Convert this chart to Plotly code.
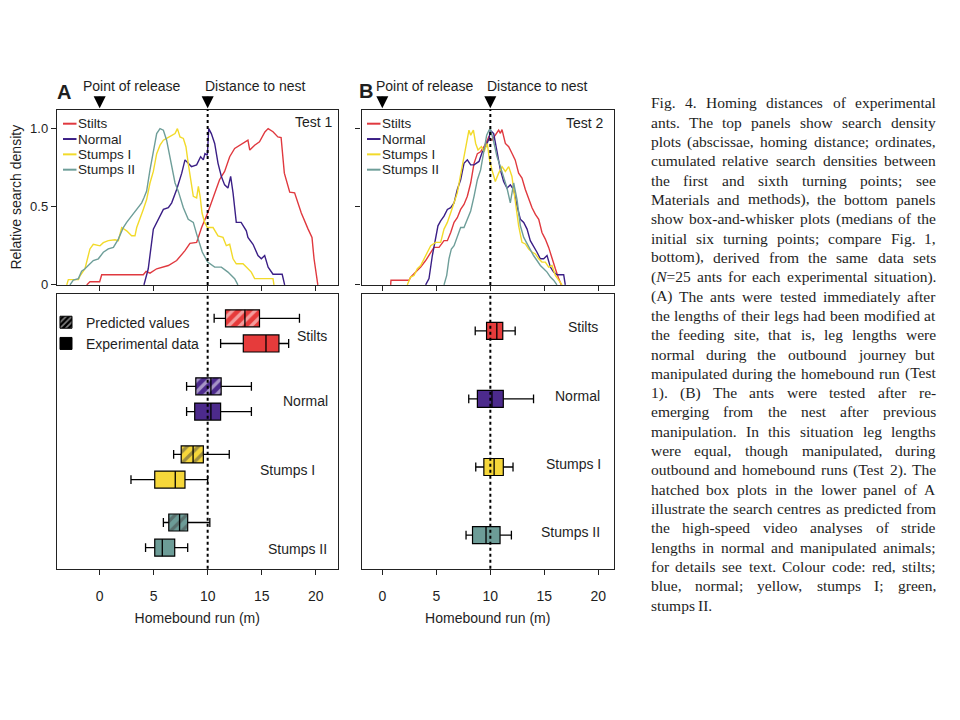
import plotly.graph_objects as go

W, H = 960, 720
OFF = 8  # page margin of the rendered html body
def px(x):
    return (x - OFF) / W
def py(y):
    return 1 - (y - OFF) / H

# ---------------- data ----------------
GROUPS = ["Stilts", "Normal", "Stumps I", "Stumps II"]
X_TICKS = [0, 5, 10, 15, 20]
DENSITY_TICKS = [0, 0.5, 1.0]
DENSITY_TICK_LABELS = ["0", "0.5", "1.0"]
RELEASE_POINT = 0
NEST_DISTANCE = 10

# Test 1 search density curves
A_STILTS_X = [-1.2, -0.9, 0.0, 0.19, 4.04, 4.3, 4.66, 5.28, 6.36, 7.13, 7.9, 8.36, 8.98, 9.44, 10.0, 10.5, 11.1, 11.57,
              12.04, 12.5, 13.27, 13.73, 13.9, 14.35, 14.8, 15.3, 15.6, 16.05, 16.5, 16.8, 17.1, 17.6, 18.05, 18.67,
              19.3, 19.66, 19.85, 20.06, 20.2]
A_STILTS_Y = [0, 0.02, 0.02, 0.065, 0.065, 0.087, 0.075, 0.103, 0.124, 0.156, 0.219, 0.266, 0.272, 0.367, 0.46, 0.557,
              0.673, 0.726, 0.82, 0.873, 0.905, 0.926, 0.863, 0.894, 0.916, 0.979, 1.0, 0.98, 0.947, 0.943, 0.715,
              0.593, 0.589, 0.46, 0.357, 0.304, 0.167, 0.06, 0]
A_NORMAL_X = [4.1, 4.5, 4.97, 5.43, 5.9, 6.36, 6.67, 7.13, 7.6, 7.9, 8.2, 8.5, 8.98, 9.35, 9.6, 9.75, 9.97, 10.1, 10.34,
              10.65, 10.96, 11.27, 11.57, 11.88, 12.13, 12.35, 12.65, 13.1, 13.58, 13.73, 14.2, 14.66, 14.97, 15.28,
              15.6, 16.05, 16.9, 17.13]
A_NORMAL_Y = [0, 0.103, 0.357, 0.42, 0.483, 0.494, 0.525, 0.61, 0.715, 0.8, 0.78, 0.757, 0.768, 0.82, 0.8, 0.84, 0.83,
              1.0, 0.968, 0.905, 0.778, 0.694, 0.64, 0.62, 0.694, 0.589, 0.4, 0.4, 0.346, 0.304, 0.26, 0.188, 0.167,
              0.188, 0.114, 0.068, 0.068, 0]
A_STUMPS1_X = [-3.05, -2.9, -1.97, -1.8, -1.36, -0.9, -0.59, 0.03, 0.34, 0.8, 1.42, 1.73, 2.04, 2.5, 2.96, 3.27, 3.43,
               3.73, 4.04, 4.35, 4.66, 4.97, 5.28, 5.59, 5.9, 6.2, 6.5, 6.98, 7.2, 7.44, 7.75, 7.99, 8.2, 8.36, 8.67,
               8.98, 9.14, 9.3, 9.48, 9.72, 9.97, 10.5, 10.96, 11.42, 11.73, 12.04, 12.35, 12.65, 13.27, 13.58, 14.04,
               14.35, 16.05, 16.14]
A_STUMPS1_Y = [0, 0.034, 0.034, 0.06, 0.103, 0.23, 0.26, 0.25, 0.27, 0.283, 0.289, 0.283, 0.367, 0.346, 0.314, 0.314,
               0.367, 0.42, 0.483, 0.546, 0.652, 0.726, 0.84, 0.894, 0.926, 0.937, 0.947, 0.968, 1.0, 0.947, 0.937,
               0.884, 0.778, 0.694, 0.567, 0.557, 0.63, 0.567, 0.46, 0.4, 0.367, 0.367, 0.314, 0.304, 0.251, 0.26,
               0.167, 0.135, 0.135, 0.114, 0.082, 0.04, 0.04, 0]
A_STUMPS2_X = [-2.75, -2.44, -1.97, -1.67, -1.36, -1.05, -0.59, -0.12, 0.34, 0.8, 1.27, 1.73, 2.19, 2.5, 2.96, 3.43,
               3.89, 4.1, 4.35, 4.66, 4.97, 5.28, 5.59, 5.9, 6.2, 6.5, 6.76, 6.98, 7.28, 7.75, 8.2, 8.67, 8.98, 9.2,
               9.5, 10.0, 10.65, 11.27, 11.88, 12.5, 12.8]
A_STUMPS2_Y = [0, 0.03, 0.04, 0.087, 0.103, 0.124, 0.156, 0.167, 0.209, 0.23, 0.24, 0.293, 0.367, 0.4, 0.44, 0.483,
               0.525, 0.557, 0.6, 0.736, 0.863, 0.968, 1.0, 0.99, 0.926, 0.82, 0.736, 0.652, 0.6, 0.494, 0.42, 0.4,
               0.325, 0.27, 0.21, 0.146, 0.114, 0.114, 0.082, 0.04, 0]

# Test 2 search density curves
B_STILTS_X = [0.77, 0.8, 2.47, 2.62, 3.09, 3.55, 4.01, 4.48, 4.78, 5.25, 5.71, 6.02, 6.33, 6.64, 6.94, 7.25, 7.56, 7.87,
              8.18, 8.49, 8.8, 9.1, 9.41, 9.72, 9.85, 10.15, 10.46, 10.77, 10.93, 11.08, 11.39, 11.7, 12.0, 12.3,
              12.62, 12.93, 13.24, 13.55, 13.86, 14.17, 14.48, 14.78, 15.09, 15.4, 15.71, 16.02, 16.33, 16.57]
B_STILTS_Y = [0, 0.03, 0.03, 0.05, 0.082, 0.114, 0.156, 0.209, 0.24, 0.24, 0.283, 0.283, 0.335, 0.4, 0.43, 0.483, 0.515,
              0.567, 0.652, 0.778, 0.84, 0.852, 0.884, 0.926, 0.947, 0.926, 0.958, 0.99, 0.97, 0.994, 0.905, 0.884,
              0.842, 0.8, 0.715, 0.684, 0.61, 0.546, 0.494, 0.451, 0.42, 0.335, 0.293, 0.24, 0.167, 0.103, 0.04, 0]
B_NORMAL_X = [4.01, 4.32, 4.63, 4.94, 5.15, 5.4, 5.71, 6.02, 6.33, 6.64, 6.94, 7.25, 7.56, 7.87, 8.18, 8.49, 8.95, 9.26,
              9.57, 9.88, 10.0, 10.31, 10.62, 10.93, 11.23, 11.54, 11.85, 12.16, 12.47, 12.78, 13.09, 13.4, 13.7, 14.0,
              14.32, 14.63, 14.94, 15.25, 15.56, 15.86, 16.17, 16.79, 16.94]
B_NORMAL_Y = [0, 0.04, 0.188, 0.314, 0.378, 0.41, 0.44, 0.483, 0.494, 0.525, 0.61, 0.673, 0.778, 0.8, 0.768, 0.768, 0.79,
              0.852, 0.884, 0.937, 0.99, 0.968, 0.863, 0.736, 0.662, 0.62, 0.64, 0.61, 0.504, 0.42, 0.4, 0.357, 0.283,
              0.251, 0.209, 0.167, 0.167, 0.188, 0.114, 0.082, 0.065, 0.065, 0]
B_STUMPS1_X = [2.31, 2.62, 2.93, 3.24, 3.55, 3.86, 4.17, 4.48, 4.94, 5.4, 5.71, 6.02, 6.33, 6.64, 6.94, 7.25, 7.56, 7.81,
               8.02, 8.18, 8.43, 8.64, 8.86, 9.17, 9.41, 9.72, 9.9, 10.15, 10.46, 10.77, 11.08, 11.39, 11.7, 12.0, 12.3,
               12.62, 12.93, 13.24, 13.55, 13.86, 14.17, 14.48, 14.78, 15.09, 15.4, 15.71, 16.02, 16.33, 16.64]
B_STUMPS1_Y = [0, 0.05, 0.06, 0.103, 0.124, 0.167, 0.209, 0.251, 0.272, 0.272, 0.357, 0.4, 0.462, 0.525, 0.589, 0.705,
               0.82, 0.926, 0.99, 0.958, 0.99, 0.905, 0.863, 0.884, 0.852, 0.905, 0.81, 0.736, 0.662, 0.715, 0.757,
               0.726, 0.757, 0.694, 0.546, 0.378, 0.272, 0.262, 0.23, 0.209, 0.198, 0.167, 0.146, 0.146, 0.114, 0.124,
               0.061, 0.03, 0]
B_STUMPS2_X = [5.71, 5.96, 6.17, 6.39, 6.64, 6.94, 7.25, 7.56, 7.87, 8.18, 8.49, 8.8, 9.1, 9.41, 9.66, 9.88, 10.0, 10.31,
               10.62, 10.93, 11.23, 11.54, 11.85, 12.16, 12.47, 12.78, 13.09, 13.4, 13.7, 14.0, 14.32, 14.63, 14.94,
               15.25, 15.56, 15.86, 16.17]
B_STUMPS2_Y = [0, 0.061, 0.167, 0.23, 0.251, 0.314, 0.367, 0.367, 0.42, 0.473, 0.567, 0.673, 0.736, 0.863, 0.958, 0.99,
               1.0, 0.916, 0.82, 0.757, 0.684, 0.62, 0.525, 0.652, 0.546, 0.378, 0.304, 0.262, 0.23, 0.188, 0.156,
               0.124, 0.103, 0.082, 0.05, 0.03, 0]

# Box-and-whisker summaries (order: Stilts, Normal, Stumps I, Stumps II)
A_PRED_LO = [10.6, 8.05, 6.85, 5.9]
A_PRED_Q1 = [11.65, 8.9, 7.55, 6.4]
A_PRED_MED = [13.45, 10.3, 8.65, 7.4]
A_PRED_Q3 = [14.8, 11.25, 9.6, 8.15]
A_PRED_HI = [18.5, 14.05, 12.0, 10.2]

A_EXP_LO = [11.2, 8.05, 2.9, 4.25]
A_EXP_Q1 = [13.3, 8.8, 5.1, 5.1]
A_EXP_MED = [15.4, 10.3, 7.0, 5.8]
A_EXP_Q3 = [16.6, 11.2, 7.9, 6.95]
A_EXP_HI = [17.5, 14.05, 10.0, 8.15]

B_LO = [8.6, 8.0, 8.65, 7.75]
B_Q1 = [9.65, 8.8, 9.4, 8.35]
B_MED = [10.6, 10.15, 10.35, 9.6]
B_Q3 = [11.15, 11.2, 11.2, 10.9]
B_HI = [12.3, 14.0, 12.1, 11.95]

CAPTION_LINES = [
    "Fig. 4. Homing distances of experimental",
    "ants. The top panels show search density",
    "plots (abscissae, homing distance; ordinates,",
    "cumulated relative search densities between",
    "the first and sixth turning points; see",
    "Materials and methods), the bottom panels",
    "show box-and-whisker plots (medians of the",
    "initial six turning points; compare Fig. 1,",
    "bottom), derived from the same data sets",
    "(<i>N</i>=25 ants for each experimental situation).",
    "(A) The ants were tested immediately after",
    "the lengths of their legs had been modified at",
    "the feeding site, that is, leg lengths were",
    "normal during the outbound journey but",
    "manipulated during the homebound run (Test",
    "1). (B) The ants were tested after re-",
    "emerging from the nest after previous",
    "manipulation. In this situation leg lengths",
    "were equal, though manipulated, during",
    "outbound and homebound runs (Test 2). The",
    "hatched box plots in the lower panel of A",
    "illustrate the search centres as predicted from",
    "the high-speed video analyses of stride",
    "lengths in normal and manipulated animals;",
    "for details see text. Colour code: red, stilts;",
    "blue, normal; yellow, stumps I; green,",
    "stumps II.",
]

# ---------------- styles ----------------
LINE_COLORS = ["#e0393f", "#3b1f86", "#f2da2a", "#6e9e99"]
BOX_COLORS = ["#e63b3b", "#4c2a8c", "#f6d73a", "#6c9c97"]
SANS = "Liberation Sans, Arial, sans-serif"
SERIF = "Liberation Serif, Times New Roman, serif"
TXT = "#1e1e1e"

# layout geometry (pixels in the reference picture)
A_L, A_R = 57, 337.5
B_L, B_R = 361.5, 614
TOP_T, TOP_B = 110.7, 288
BOT_T, BOT_B = 297, 575
ROWS = [3, 2, 1, 0]          # row index of each group in the lower panels
PAIR_OFF = 0.185             # offset of predicted / experimental boxes from row centre
BOX_H = 0.25
CAP = 0.065

fig = go.Figure()

def density(xs, ys, color, xa, ya):
    fig.add_trace(go.Scatter(x=xs, y=ys, mode="lines", line=dict(color=color, width=1.4),
                             showlegend=False, hoverinfo="skip", xaxis=xa, yaxis=ya))

for (xs, ys), c in zip([(A_STILTS_X, A_STILTS_Y), (A_NORMAL_X, A_NORMAL_Y),
                        (A_STUMPS1_X, A_STUMPS1_Y), (A_STUMPS2_X, A_STUMPS2_Y)], LINE_COLORS):
    density(xs, ys, c, "x", "y")
for (xs, ys), c in zip([(B_STILTS_X, B_STILTS_Y), (B_NORMAL_X, B_NORMAL_Y),
                        (B_STUMPS1_X, B_STUMPS1_Y), (B_STUMPS2_X, B_STUMPS2_Y)], LINE_COLORS):
    density(xs, ys, c, "x3", "y3")

def boxes(lo, q1, med, q3, hi, ypos, hatched, xa, ya):
    pattern = dict(shape="/", fgcolor="white", fillmode="overlay", size=8, solidity=0.42) if hatched else dict(shape="")
    fig.add_trace(go.Bar(orientation="h", y=ypos, base=q1, x=[b - a for a, b in zip(q1, q3)], width=BOX_H,
                         marker=dict(color=BOX_COLORS, line=dict(color="black", width=1.2), pattern=pattern),
                         showlegend=False, hoverinfo="skip", xaxis=xa, yaxis=ya))
    wx, wy = [], []
    for l, a, m, b, h, y in zip(lo, q1, med, q3, hi, ypos):
        wx += [l, a, None, b, h, None, l, l, None, h, h, None, m, m, None]
        wy += [y, y, None, y, y, None, y - CAP, y + CAP, None, y - CAP, y + CAP, None,
               y - BOX_H / 2, y + BOX_H / 2, None]
    fig.add_trace(go.Scatter(x=wx, y=wy, mode="lines", line=dict(color="black", width=1.3),
                             showlegend=False, hoverinfo="skip", xaxis=xa, yaxis=ya))

boxes(A_PRED_LO, A_PRED_Q1, A_PRED_MED, A_PRED_Q3, A_PRED_HI, [r + PAIR_OFF for r in ROWS], True, "x2", "y2")
boxes(A_EXP_LO, A_EXP_Q1, A_EXP_MED, A_EXP_Q3, A_EXP_HI, [r - PAIR_OFF for r in ROWS], False, "x2", "y2")
boxes(B_LO, B_Q1, B_MED, B_Q3, B_HI, ROWS, False, "x4", "y4")

# legend entries for the box plot types
fig.add_trace(go.Bar(x=[None], y=[None], orientation="h", name="Predicted values", xaxis="x2", yaxis="y2",
                     marker=dict(color="black", line=dict(color="black", width=1),
                                 pattern=dict(shape="/", fgcolor="white", fillmode="overlay", size=5, solidity=0.4))))
fig.add_trace(go.Bar(x=[None], y=[None], orientation="h", name="Experimental data", xaxis="x2", yaxis="y2",
                     marker=dict(color="black", line=dict(color="black", width=1))))

frame = dict(showline=True, linecolor="#222", linewidth=1.4, mirror=True, showgrid=False, zeroline=False,
             tickcolor="#222", tickfont=dict(family=SANS, size=13, color=TXT))
xr_a = [-3.95, -3.95 + (A_R - A_L) / 10.8]
xr_b = [-1.93, -1.93 + (B_R - B_L) / 10.8]
top_dom = [py(TOP_B), py(TOP_T)]
bot_dom = [py(BOT_B), py(BOT_T)]
bottom_x = dict(ticks="outside", ticklen=5, ticklabelstandoff=9,
                title=dict(text="Homebound run (m)", font=dict(family=SANS, size=14, color=TXT), standoff=10))

fig.update_layout(
    width=W, height=H, margin=dict(l=0, r=0, t=0, b=0),
    paper_bgcolor="white", plot_bgcolor="white", barmode="overlay",
    showlegend=True,
    legend=dict(x=px(46), y=py(310), xanchor="left", yanchor="top", bgcolor="rgba(0,0,0,0)",
                font=dict(family=SANS, size=14, color=TXT), tracegroupgap=0, itemclick=False),
    xaxis=dict(domain=[px(A_L), px(A_R)], range=xr_a, anchor="y", tickvals=X_TICKS, ticks="outside", ticklen=5,
               showticklabels=False, **frame),
    yaxis=dict(domain=top_dom, range=[0, 1.122], anchor="x", tickvals=DENSITY_TICKS, ticktext=DENSITY_TICK_LABELS,
               ticks="outside", ticklen=5,
               title=dict(text="Relative search density", font=dict(family=SANS, size=14, color=TXT), standoff=8),
               **frame),
    xaxis2=dict(domain=[px(A_L), px(A_R)], range=xr_a, anchor="y2", tickvals=X_TICKS, **bottom_x,
                **{**frame, "tickfont": dict(family=SANS, size=14, color=TXT)}),
    yaxis2=dict(domain=bot_dom, range=[-0.494, 3.545], anchor="x2", showticklabels=False, ticks="", **frame),
    xaxis3=dict(domain=[px(B_L), px(B_R)], range=xr_b, anchor="y3", tickvals=X_TICKS, ticks="outside", ticklen=5,
                showticklabels=False, **frame),
    yaxis3=dict(domain=top_dom, range=[0, 1.122], anchor="x3", tickvals=DENSITY_TICKS, ticks="outside", ticklen=5,
                showticklabels=False, **frame),
    xaxis4=dict(domain=[px(B_L), px(B_R)], range=xr_b, anchor="y4", tickvals=X_TICKS, **bottom_x,
                **{**frame, "tickfont": dict(family=SANS, size=14, color=TXT)}),
    yaxis4=dict(domain=bot_dom, range=[-0.494, 3.545], anchor="x4", showticklabels=False, ticks="", **frame),
)

# nest distance reference lines
for xa in ["x", "x2", "x3", "x4"]:
    ya = "y" + xa[1:]
    fig.add_shape(type="line", xref=xa, yref=ya + " domain", x0=NEST_DISTANCE, x1=NEST_DISTANCE, y0=0, y1=1,
                  line=dict(color="black", width=2, dash="dot"))

ann = []
def text(x, y, s, size=14, xanchor="left", yanchor="middle", xref="paper", yref="paper", family=SANS, **kw):
    ann.append(dict(x=x, y=y, text=s, xref=xref, yref=yref, xanchor=xanchor, yanchor=yanchor, showarrow=False,
                    borderpad=0, borderwidth=0, font=dict(family=family, size=size, color=TXT), **kw))

# panel letters, arrow headers
text(px(64), py(93), "<b>A</b>", size=20, xanchor="center")
text(px(366), py(92), "<b>B</b>", size=20, xanchor="center")
for xa, rel_left, nest_left in [("x", 83, 205), ("x3", 376, 487)]:
    for xv in [RELEASE_POINT, NEST_DISTANCE]:
        ann.append(dict(x=xv, y=py(109.5), xref=xa, yref="paper", text="", showarrow=True, ax=0, ay=-13,
                        arrowhead=2, arrowsize=1.2, arrowwidth=2, arrowcolor="black"))
    text(px(rel_left), py(87), "Point of release")
    text(px(nest_left), py(87), "Distance to nest")
text(px(333), py(123), "Test 1", xanchor="right")
text(px(604), py(124), "Test 2", xanchor="right")

# line legends (short coloured dash + label)
for left, ys in [(63, [125, 140.5, 156, 171.5]), (367, [125, 140.5, 156, 171.5])]:
    for g, c, yv in zip(GROUPS, LINE_COLORS, ys):
        fig.add_shape(type="line", xref="paper", yref="paper", x0=px(left), x1=px(left + 13.5),
                      y0=py(yv), y1=py(yv), line=dict(color=c, width=2))
        text(px(left + 14.5), py(yv), g, size=13.5)

# group labels in the lower panels
A_LABEL_X = [19.7, 19.1, 17.4, 18.3]
A_LABEL_DY = [-0.08, -0.03, -0.04, -0.2]
B_LABEL_X = [18.6, 18.1, 17.7, 17.45]
for g, r, lx, dy in zip(GROUPS, ROWS, A_LABEL_X, A_LABEL_DY):
    text(lx, r + dy, g, xanchor="center", xref="x2", yref="y2")
for g, r, lx in zip(GROUPS, ROWS, B_LABEL_X):
    text(lx, r + 0.05, g, xanchor="center", xref="x4", yref="y4")

# justified caption
TIMES = dict(zip("abcdefghijklmnopqrstuvwxyz",
                 [444, 500, 444, 500, 444, 333, 500, 500, 278, 278, 500, 278, 778, 500, 500, 500, 500, 333, 389, 278,
                  500, 500, 722, 500, 500, 444]))
TIMES.update(dict(zip("ABCDEFGHIJKLMNOPQRSTUVWXYZ",
                      [722, 667, 667, 722, 611, 556, 722, 722, 333, 389, 722, 611, 889, 722, 722, 556, 722, 667, 556,
                       611, 722, 722, 944, 722, 722, 611])))
TIMES.update({c: 500 for c in "0123456789"})
TIMES.update({".": 250, ",": 250, ";": 278, ":": 278, "(": 333, ")": 333, "-": 333, "=": 564, " ": 250})

CAP_SIZE = 15.5
CAP_L, CAP_R = 650.5, 936
CAP_Y0, CAP_DY = 104, 19.53

def tw(word):
    plain = word.replace("<i>", "").replace("</i>", "")
    return sum(TIMES.get(ch, 500) for ch in plain) * CAP_SIZE / 1000.0

for i, line in enumerate(CAPTION_LINES):
    words = line.split(" ")
    widths = [tw(w) for w in words]
    last = i == len(CAPTION_LINES) - 1
    gap = TIMES[" "] * CAP_SIZE / 1000.0 if last else (CAP_R - CAP_L - sum(widths)) / (len(words) - 1)
    xpos = CAP_L
    yv = py(CAP_Y0 + i * CAP_DY)
    for j, (w, wd) in enumerate(zip(words, widths)):
        if not last and j == len(words) - 1 and j > 0:
            text(px(CAP_R), yv, w, size=CAP_SIZE, xanchor="right", family=SERIF)
        else:
            text(px(xpos), yv, w, size=CAP_SIZE, family=SERIF)
        xpos += wd + gap

fig.update_layout(annotations=ann)
fig.write_html("out.html")
